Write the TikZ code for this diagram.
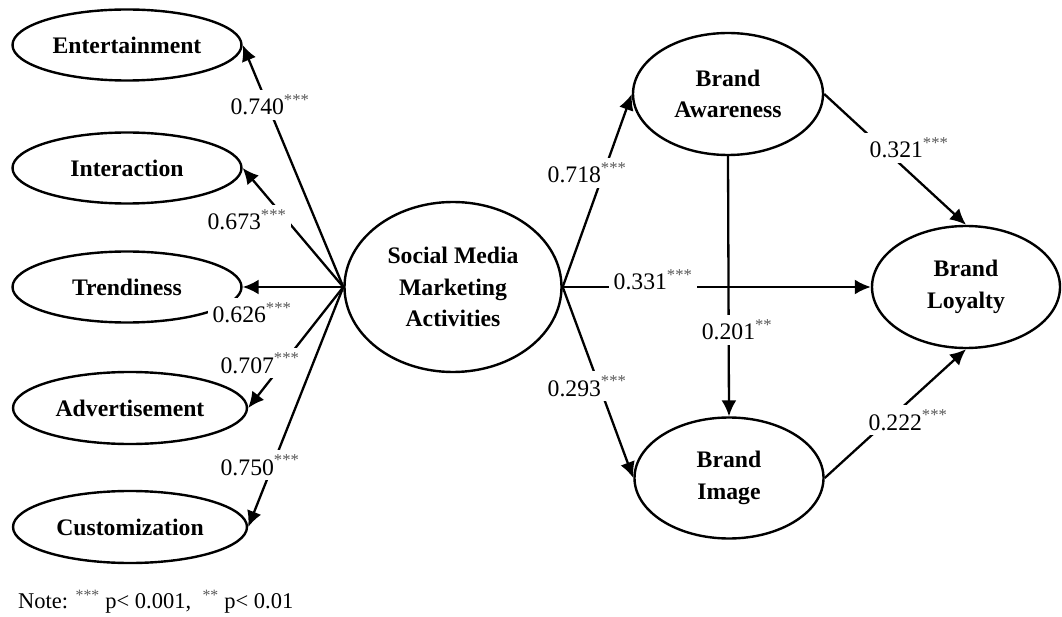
\documentclass[tikz,border=0pt]{standalone}
\usepackage{fontspec}
\setmainfont{Liberation Serif}
\usetikzlibrary{shapes.geometric,arrows.meta}
\newcommand{\sigmark}[1]{\textsuperscript{\color{black!65}#1}}
\begin{document}
\begin{tikzpicture}[x=1pt,y=-1pt,
  every node/.style={font=\fontsize{23.7}{31.5}\selectfont},
  latent/.style={draw, ellipse, line width=2.4pt, inner sep=0pt, align=center, font=\fontsize{23.7}{31.5}\selectfont\bfseries},
  path/.style={line width=2.3pt, -{Latex[length=16pt,width=15pt]}},
  coef/.style={fill=white, inner sep=5pt, anchor=base, font=\fontsize{23.7}{28}\selectfont}]
\useasboundingbox (0,0) rectangle (1062,617);
% latent nodes
\node[latent, minimum width=229pt, minimum height=71pt] (ent) at (127,45) {Entertainment};
\node[latent, minimum width=229pt, minimum height=71pt] (int) at (127,168) {Interaction};
\node[latent, minimum width=229pt, minimum height=71pt] (tre) at (127,287) {Trendiness};
\node[latent, minimum width=234pt, minimum height=72pt] (adv) at (130,408) {Advertisement};
\node[latent, minimum width=234pt, minimum height=72pt] (cus) at (130,527) {Customization};
\node[latent, minimum width=217pt, minimum height=170pt] (smm) at (453,287) {Social Media\\Marketing\\Activities};
\node[latent, minimum width=190pt, minimum height=122pt] (ba) at (728,94) {Brand\\Awareness};
\node[latent, minimum width=189pt, minimum height=121pt] (bi) at (729,478) {Brand\\Image};
\node[latent, minimum width=188pt, minimum height=122pt] (bl) at (966,287) {Brand\\Loyalty};
% paths
\draw[path] (smm.west) -- (ent.east);
\draw[path] (smm.west) -- (int.east);
\draw[path] (smm.west) -- (tre.east);
\draw[path] (smm.west) -- (adv.east);
\draw[path] (smm.west) -- (cus.east);
\draw[path] (smm.east) -- (ba.west);
\draw[path] (smm.east) -- (bl.west);
\draw[path] (smm.east) -- (bi.west);
\draw[path] (ba.south) -- (bi.north);
\draw[path] (ba.east) -- (bl.north);
\draw[path] (bi.east) -- (bl.south);
% coefficients
\node[coef] (c1) at (270,115) {0.740\sigmark{***}};
\node[coef] (c2) at (247,230) {0.673\sigmark{***}};
\node[coef] (c3) at (252,323) {0.626\sigmark{***}};
\node[coef] (c4) at (260,373) {0.707\sigmark{***}};
\node[coef] (c5) at (260,475) {0.750\sigmark{***}};
\node[coef] (c6) at (587,183) {0.718\sigmark{***}};
\node[coef] (c7) at (653,290) {0.331\sigmark{***}};
\node[coef] (c8) at (737,340) {0.201\sigmark{**}};
\node[coef] (c9) at (587,396) {0.293\sigmark{***}};
\node[coef] (c10) at (909,158) {0.321\sigmark{***}};
\node[coef] (c11) at (908,430) {0.222\sigmark{***}};
% note
\node[anchor=base west, inner sep=0pt, font=\fontsize{22.5}{27}\selectfont] (note) at (18,608) {Note: \sigmark{***} p< 0.001, \ \sigmark{**} p< 0.01};
\end{tikzpicture}
\end{document}
